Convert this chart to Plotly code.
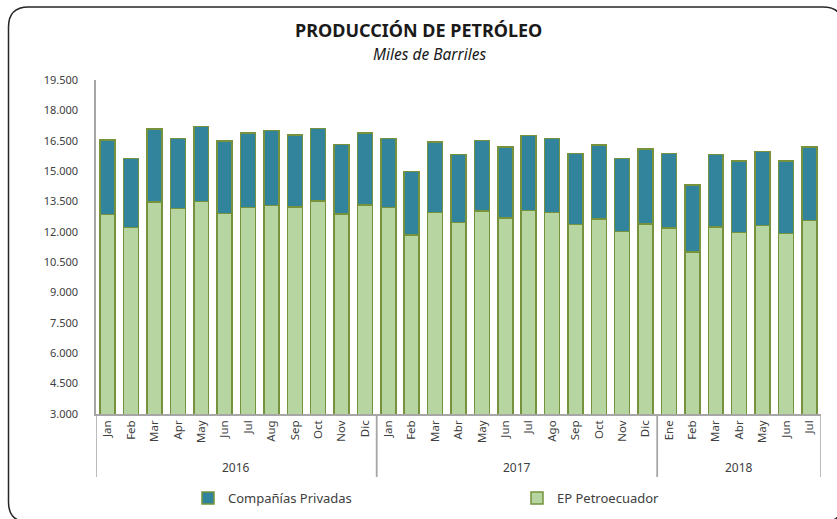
import plotly.graph_objects as go

years = ["2016"] * 12 + ["2017"] * 12 + ["2018"] * 7
months = ["Jan", "Feb", "Mar", "Apr", "May", "Jun", "Jul", "Aug", "Sep", "Oct", "Nov", "Dic",
          "Jan", "Feb", "Mar", "Abr", "May", "Jun", "Jul", "Ago", "Sep", "Oct", "Nov", "Dic",
          "Ene", "Feb", "Mar", "Abr", "May", "Jun", "Jul"]
ep_petroecuador = [12860, 12220, 13470, 13160, 13490, 12910, 13210, 13290, 13220, 13530, 12880, 13320,
                   13200, 11840, 12960, 12450, 13020, 12680, 13060, 12960, 12370, 12630, 12020, 12380,
                   12190, 11000, 12250, 11960, 12320, 11920, 12550]
total = [16540, 15620, 17070, 16620, 17200, 16490, 16890, 17000, 16790, 17100, 16310, 16870,
         16620, 14980, 16430, 15830, 16510, 16180, 16770, 16610, 15870, 16280, 15620, 16100,
         15880, 14320, 15830, 15490, 15970, 15500, 16200]
privadas = [t - e for t, e in zip(total, ep_petroecuador)]
y_ticks = list(range(3000, 19501, 1500))

W, H = 837, 519
L, R, T, B = 96, 16, 80, 105
pw, ph = W - L - R, H - T - B

def px(v):
    return (v - L) / pw

def py(v):
    return (H - B - v) / ph

idx = list(range(len(months)))
fig = go.Figure()
fig.add_trace(go.Bar(x=idx, y=ep_petroecuador, name="EP Petroecuador", legend="legend2",
                     marker=dict(color="#B7D5A0", line=dict(color="#76923C", width=1.5))))
fig.add_trace(go.Bar(x=idx, y=privadas, name="Compañías Privadas", legend="legend",
                     marker=dict(color="#31849B", line=dict(color="#76923C", width=1.5))))

# year group labels and dividers under the month labels
groups = []
for i, yr in enumerate(years):
    if not groups or groups[-1][0] != yr:
        groups.append([yr, i, i])
    else:
        groups[-1][2] = i
for yr, a, b in groups:
    fig.add_annotation(x=(a + b) / 2, y=py(467), xref="x", yref="paper", text=yr,
                       xanchor="center", yanchor="middle", showarrow=False,
                       font=dict(size=12, color="#404040"))
    for edge in (a - 0.5, b + 0.5):
        fig.add_shape(type="line", x0=edge, x1=edge, y0=0, y1=py(477), xref="x", yref="paper",
                      line=dict(color="#A6A6A6", width=1.5))

# title
fig.add_annotation(x=px(418), y=py(30), xref="paper", yref="paper", xanchor="center",
                   yanchor="middle", text="<b>PRODUCCIÓN DE PETRÓLEO</b>", showarrow=False,
                   font=dict(size=18, color="#1a1a1a"))
fig.add_annotation(x=px(429), y=py(54), xref="paper", yref="paper", xanchor="center",
                   yanchor="middle", text="<i>Miles de Barriles</i>", showarrow=False,
                   font=dict(size=15.5, color="#1a1a1a"))

# rounded frame around the whole chart (cut off at right and bottom)
x0, x1, y0, y1, r = 8.5, 843, 7, 522, 20
path = (f"M {px(x0 + r)} {py(y0)} L {px(x1 - r)} {py(y0)} Q {px(x1)} {py(y0)} {px(x1)} {py(y0 + r)} "
        f"L {px(x1)} {py(y1 - r)} Q {px(x1)} {py(y1)} {px(x1 - r)} {py(y1)} "
        f"L {px(x0 + r)} {py(y1)} Q {px(x0)} {py(y1)} {px(x0)} {py(y1 - r)} "
        f"L {px(x0)} {py(y0 + r)} Q {px(x0)} {py(y0)} {px(x0 + r)} {py(y0)} Z")
fig.add_shape(type="path", path=path, xref="paper", yref="paper",
              line=dict(color="#262626", width=1.5), layer="below")

legend_style = dict(orientation="h", yanchor="middle", y=py(498), xanchor="left",
                    font=dict(size=13, color="#404040"), bgcolor="rgba(0,0,0,0)", itemwidth=30)
fig.update_layout(
    width=W, height=H,
    barmode="stack", bargap=0.36,
    paper_bgcolor="white", plot_bgcolor="white",
    font=dict(family="Noto Sans", color="#404040", size=11),
    margin=dict(l=L, r=R, t=T, b=B, autoexpand=False),
    legend=dict(x=px(188), **legend_style),
    legend2=dict(x=px(517), **legend_style),
    showlegend=True,
)
fig.update_yaxes(range=[3000, 19500], tickvals=y_ticks,
                 ticktext=[f"{v:,}".replace(",", ".") for v in y_ticks],
                 showgrid=False, showline=True, linecolor="#A6A6A6", linewidth=1.5,
                 ticks="", ticklabelstandoff=14, tickfont=dict(size=11, color="#404040"),
                 zeroline=False)
fig.update_xaxes(range=[-0.5, len(months) - 0.5], tickvals=idx, ticktext=months,
                 showline=True, linecolor="#A6A6A6", linewidth=1.5, ticks="",
                 tickangle=-90, tickfont=dict(size=11.5, color="#404040"), showgrid=False,
                 zeroline=False)

# the page's default body margin would push the figure off by 8px
fig.write_html("out.html", config={"displayModeBar": False},
               post_script="document.body.style.margin = '0';")
